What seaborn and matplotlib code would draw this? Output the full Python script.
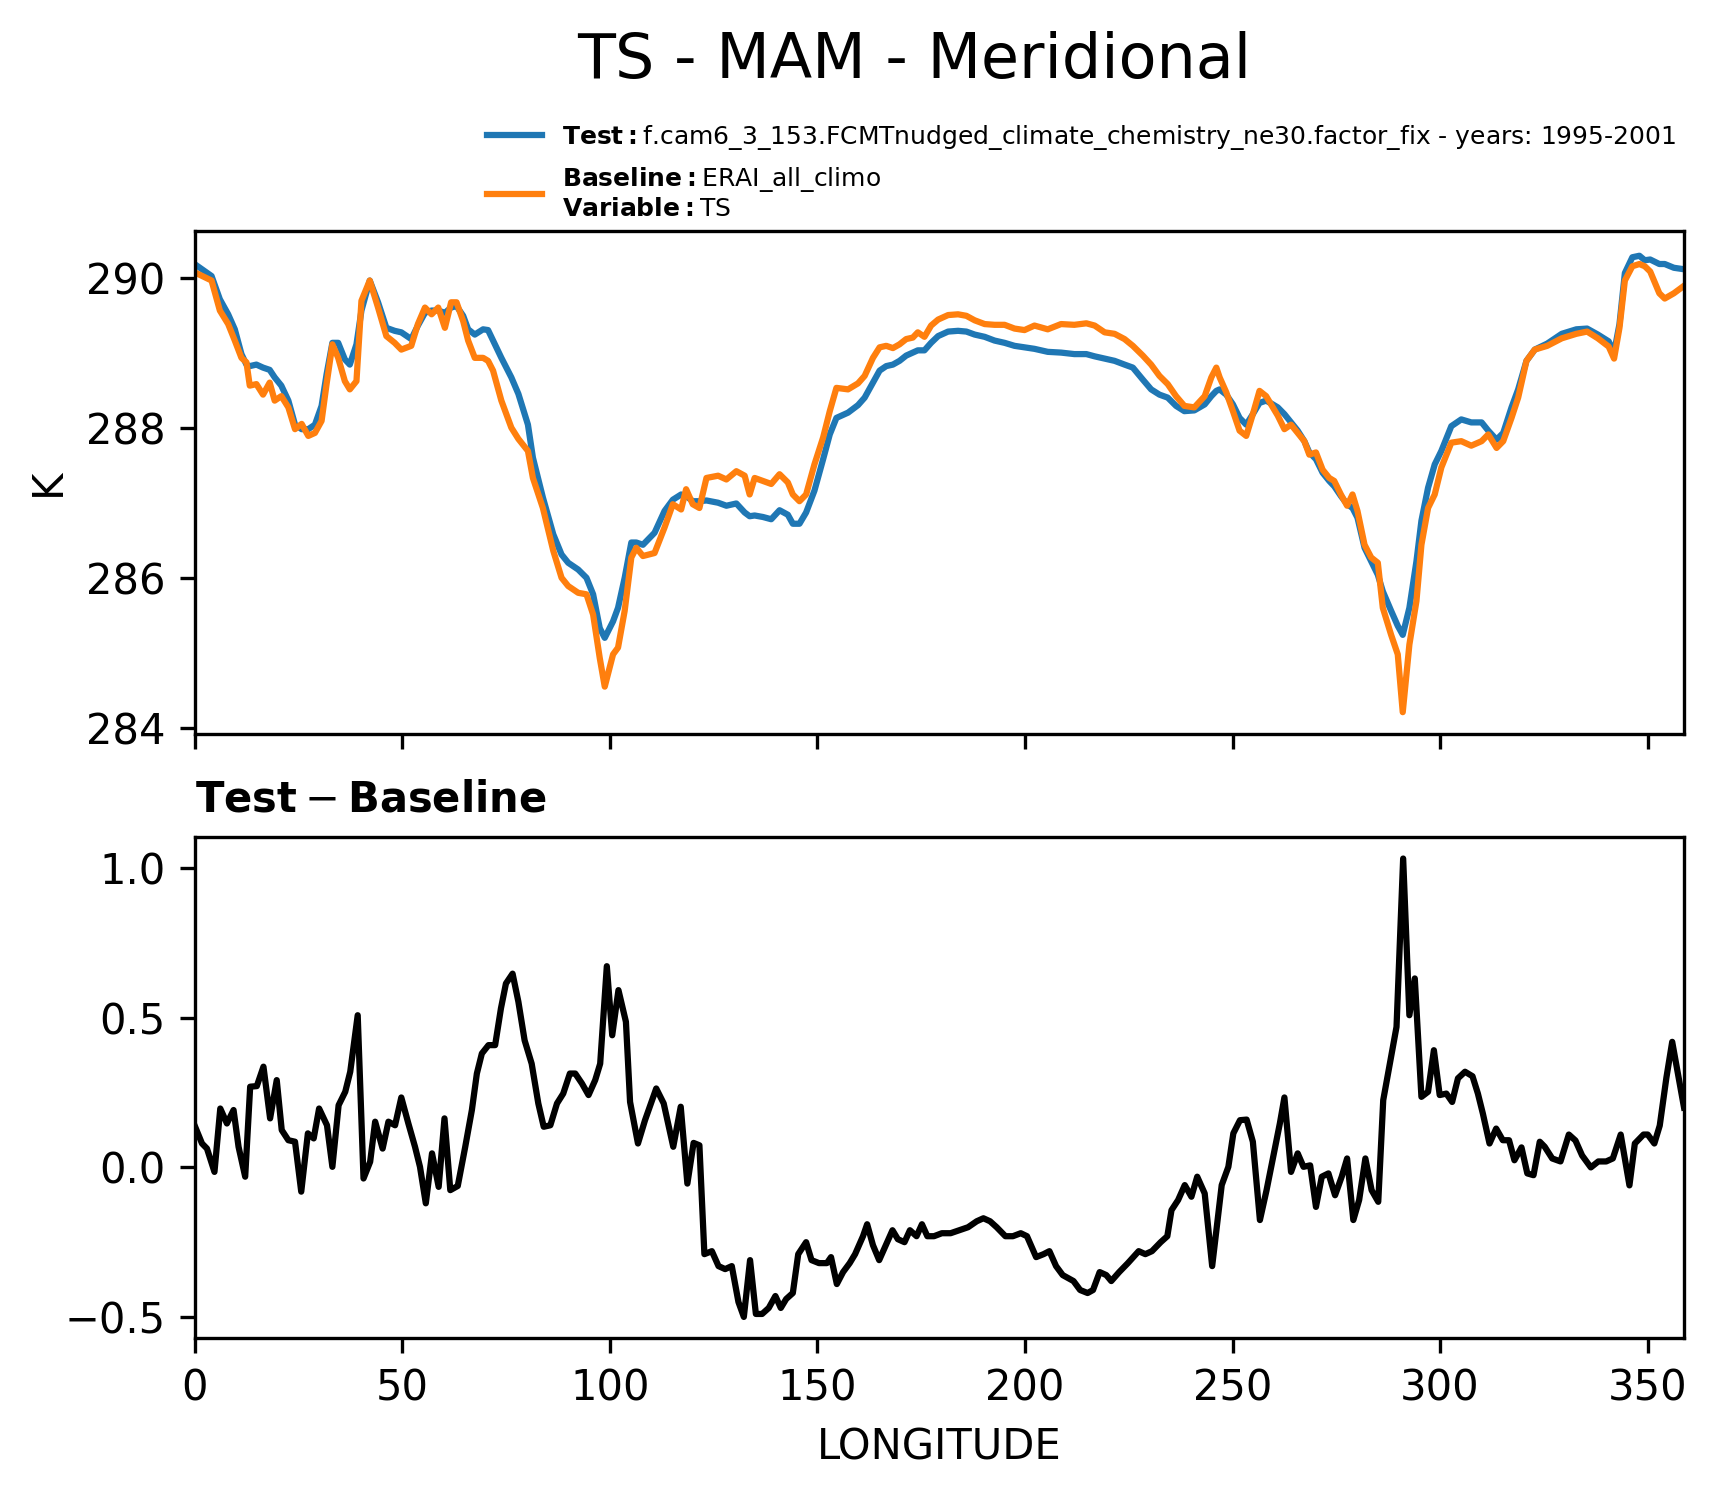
import numpy as np
import matplotlib
matplotlib.use("Agg")
import matplotlib.pyplot as plt
import seaborn as sns

# longitudes for the two climatology curves
lon_top = [0, 4.1, 6.1, 8.1, 9.7, 11.3, 12.5, 13.3, 14.9, 16.5,
           18.1, 19.3, 20.9, 22.6, 24.2, 25.8, 27.4, 29.0, 30.6, 31.8,
           33.2, 34.6, 36.2, 37.4, 39.0, 40.2, 42.2, 44.2, 46.2, 48.2,
           49.8, 52.2, 53.8, 55.5, 57.1, 58.7, 60.3, 61.8, 63.1, 64.7,
           65.9, 67.5, 69.5, 70.7, 71.9, 73.9, 76.3, 78.0, 80.3, 81.5,
           83.9, 86.4, 88.4, 90.0, 92.4, 94.4, 96.0, 97.6, 98.8, 100.8,
           102.0, 103.6, 105.2, 106.4, 108.0, 110.8, 113.2, 115.2, 117.2, 118.4,
           120.0, 121.6, 123.3, 126.1, 128.1, 130.5, 132.5, 133.7, 134.9, 136.9,
           138.9, 140.9, 142.9, 144.1, 145.7, 147.3, 149.3, 151.4, 153.0, 154.6,
           157.4, 159.8, 161.4, 163.4, 165.0, 166.6, 168.2, 169.8, 171.4, 173.0,
           174.2, 175.8, 177.4, 179.1, 181.5, 183.9, 185.9, 187.9, 190.3, 192.7,
           195.1, 197.5, 199.9, 202.3, 205.5, 208.7, 211.9, 214.8, 216.8, 219.2,
           221.6, 224.0, 226.0, 228.4, 230.4, 232.4, 234.4, 236.4, 238.4, 240.8,
           243.3, 244.9, 246.1, 246.9, 248.5, 250.1, 251.7, 253.3, 254.9, 256.5,
           258.1, 259.7, 260.9, 262.5, 264.1, 265.7, 267.3, 268.5, 270.1, 271.7,
           273.3, 274.5, 276.1, 277.6, 278.9, 280.1, 281.8, 283.4, 285.0, 286.2,
           288.2, 289.8, 291.0, 292.6, 294.3, 295.5, 297.1, 298.7, 300.3, 302.7,
           305.1, 307.5, 310.0, 311.6, 313.6, 315.2, 317.2, 318.8, 320.8, 322.8,
           325.8, 329.3, 332.8, 335.4, 338.0, 340.6, 341.9, 343.2, 344.5, 346.3,
           348.0, 349.3, 350.6, 352.8, 354.1, 356.3, 358.75]

ts_test = [290.18, 290.02, 289.71, 289.51, 289.31, 288.98, 288.84, 288.82, 288.84, 288.80,
           288.77, 288.67, 288.56, 288.36, 288.04, 287.98, 287.98, 288.04, 288.29, 288.71,
           289.13, 289.13, 288.91, 288.84, 289.11, 289.56, 289.96, 289.67, 289.33, 289.29,
           289.27, 289.18, 289.36, 289.53, 289.56, 289.56, 289.53, 289.60, 289.62, 289.49,
           289.31, 289.24, 289.31, 289.30, 289.16, 288.93, 288.67, 288.45, 288.04, 287.60,
           287.07, 286.58, 286.31, 286.20, 286.11, 286.00, 285.78, 285.33, 285.20, 285.42,
           285.60, 286.00, 286.47, 286.47, 286.44, 286.60, 286.89, 287.04, 287.11, 287.09,
           287.02, 287.02, 287.03, 287.00, 286.96, 286.99, 286.87, 286.82, 286.83, 286.81,
           286.78, 286.90, 286.84, 286.72, 286.72, 286.87, 287.16, 287.58, 287.91, 288.13,
           288.20, 288.30, 288.40, 288.60, 288.76, 288.82, 288.84, 288.89, 288.96, 289.00,
           289.03, 289.03, 289.13, 289.22, 289.28, 289.29, 289.28, 289.24, 289.21, 289.16,
           289.13, 289.09, 289.07, 289.05, 289.01, 289.00, 288.98, 288.98, 288.95, 288.92,
           288.89, 288.84, 288.80, 288.64, 288.51, 288.44, 288.40, 288.29, 288.22, 288.23,
           288.31, 288.42, 288.49, 288.51, 288.44, 288.31, 288.13, 288.04, 288.18, 288.33,
           288.36, 288.31, 288.27, 288.18, 288.07, 287.96, 287.82, 287.67, 287.58, 287.40,
           287.29, 287.22, 287.09, 286.98, 286.93, 286.80, 286.40, 286.22, 286.04, 285.82,
           285.56, 285.36, 285.24, 285.60, 286.22, 286.76, 287.20, 287.51, 287.69, 288.02,
           288.11, 288.07, 288.07, 287.96, 287.84, 287.93, 288.27, 288.51, 288.89, 289.04,
           289.12, 289.25, 289.31, 289.32, 289.24, 289.15, 289.00, 289.38, 290.06, 290.27,
           290.29, 290.23, 290.24, 290.18, 290.18, 290.13, 290.11]

ts_base = [290.07, 289.96, 289.56, 289.38, 289.16, 288.93, 288.87, 288.56, 288.58, 288.44,
           288.60, 288.36, 288.42, 288.27, 287.98, 288.05, 287.89, 287.93, 288.09, 288.58,
           289.11, 288.93, 288.62, 288.51, 288.62, 289.69, 289.96, 289.60, 289.22, 289.13,
           289.04, 289.09, 289.38, 289.60, 289.51, 289.60, 289.33, 289.67, 289.67, 289.42,
           289.16, 288.93, 288.93, 288.89, 288.76, 288.36, 288.00, 287.85, 287.69, 287.33,
           286.93, 286.36, 286.00, 285.89, 285.80, 285.78, 285.51, 284.93, 284.55, 284.98,
           285.07, 285.56, 286.27, 286.40, 286.29, 286.33, 286.67, 286.98, 286.91, 287.18,
           286.98, 286.93, 287.33, 287.36, 287.31, 287.42, 287.36, 287.11, 287.33, 287.29,
           287.25, 287.38, 287.27, 287.11, 287.02, 287.11, 287.51, 287.87, 288.22, 288.53,
           288.51, 288.59, 288.69, 288.93, 289.07, 289.09, 289.06, 289.11, 289.18, 289.20,
           289.27, 289.21, 289.36, 289.44, 289.50, 289.51, 289.49, 289.43, 289.38, 289.37,
           289.37, 289.32, 289.30, 289.36, 289.31, 289.38, 289.37, 289.39, 289.36, 289.27,
           289.25, 289.18, 289.09, 288.96, 288.84, 288.69, 288.58, 288.42, 288.29, 288.27,
           288.42, 288.67, 288.80, 288.67, 288.47, 288.22, 287.96, 287.89, 288.18, 288.49,
           288.42, 288.27, 288.16, 287.98, 288.04, 287.93, 287.82, 287.64, 287.67, 287.44,
           287.33, 287.29, 287.11, 286.96, 287.11, 286.89, 286.44, 286.27, 286.20, 285.60,
           285.24, 284.98, 284.21, 285.11, 285.69, 286.44, 286.93, 287.11, 287.47, 287.80,
           287.82, 287.76, 287.82, 287.91, 287.73, 287.82, 288.13, 288.40, 288.89, 289.04,
           289.09, 289.19, 289.25, 289.28, 289.19, 289.08, 288.92, 289.33, 289.96, 290.15,
           290.18, 290.15, 290.08, 289.79, 289.72, 289.79, 289.89]

# longitudes and values of the Test - Baseline curve
lon_diff = [0.0, 1.8, 3.0, 4.8, 6.2, 7.8, 9.4, 10.6, 12.2, 13.4,
            15.0, 16.6, 18.2, 19.8, 21.0, 22.6, 24.2, 25.7, 27.3, 28.7,
            30.0, 31.9, 33.2, 34.7, 36.3, 37.5, 39.3, 40.7, 42.3, 43.5,
            45.3, 46.7, 48.3, 49.8, 51.5, 53.1, 54.3, 55.7, 57.2, 58.8,
            60.2, 61.6, 63.4, 65.2, 66.8, 68.0, 69.2, 70.8, 72.4, 73.8,
            75.0, 76.6, 78.0, 79.5, 81.2, 82.8, 84.1, 85.7, 87.3, 88.8,
            90.4, 91.7, 93.3, 94.9, 96.5, 97.7, 99.3, 100.6, 102.1, 103.9,
            104.9, 106.8, 108.5, 111.2, 113.0, 115.3, 117.1, 118.7, 120.2, 121.6,
            122.8, 124.6, 126.2, 127.8, 129.4, 131.0, 132.3, 133.8, 135.2, 136.7,
            138.3, 139.9, 141.2, 142.5, 144.1, 145.4, 147.3, 148.6, 150.4, 152.3,
            153.3, 154.7, 156.2, 157.8, 159.1, 161.0, 162.0, 163.4, 164.9, 166.5,
            168.1, 169.4, 171.0, 172.3, 173.9, 175.2, 176.5, 178.1, 180.0, 182.1,
            184.2, 186.3, 188.4, 190.0, 191.6, 193.2, 195.3, 197.1, 199.0, 200.5,
            202.7, 204.5, 205.9, 207.5, 209.1, 210.4, 211.7, 213.3, 215.1, 216.4,
            218.0, 219.6, 220.8, 222.7, 224.8, 227.4, 229.0, 230.6, 232.7, 234.3,
            235.3, 236.9, 238.5, 240.1, 241.5, 243.3, 245.1, 247.4, 249.0, 250.2,
            251.8, 253.4, 254.9, 256.6, 258.2, 259.8, 261.4, 262.5, 264.1, 265.7,
            267.1, 268.7, 270.1, 271.5, 273.1, 274.7, 276.3, 277.6, 279.1, 280.5,
            282.0, 283.5, 285.1, 286.3, 287.9, 289.5, 291.1, 292.6, 293.9, 295.5,
            297.1, 298.5, 299.9, 301.5, 302.9, 304.3, 306.0, 307.8, 309.1, 310.3,
            311.9, 313.5, 315.1, 316.6, 317.9, 319.6, 321.0, 322.5, 324.0, 325.2,
            327.0, 329.0, 331.0, 332.6, 334.2, 336.3, 338.1, 340.0, 341.6, 343.5,
            345.6, 346.9, 349.0, 350.0, 351.6, 352.9, 354.5, 355.9, 358.75]

ts_diff = [0.141, 0.080, 0.063, -0.015, 0.197, 0.147, 0.192, 0.069, -0.031, 0.270,
           0.272, 0.337, 0.164, 0.292, 0.125, 0.091, 0.086, -0.081, 0.114, 0.097,
           0.197, 0.141, 0.002, 0.208, 0.253, 0.320, 0.509, -0.037, 0.019, 0.153,
           0.063, 0.153, 0.141, 0.234, 0.147, 0.069, 0.002, -0.120, 0.047, -0.065,
           0.164, -0.076, -0.062, 0.069, 0.192, 0.314, 0.381, 0.409, 0.409, 0.532,
           0.615, 0.648, 0.554, 0.425, 0.347, 0.214, 0.136, 0.141, 0.214, 0.247,
           0.314, 0.314, 0.281, 0.242, 0.292, 0.347, 0.673, 0.442, 0.593, 0.487,
           0.219, 0.080, 0.158, 0.264, 0.214, 0.069, 0.203, -0.054, 0.082, 0.074,
           -0.29, -0.28, -0.33, -0.34, -0.33, -0.45, -0.50, -0.31, -0.49, -0.49,
           -0.47, -0.43, -0.47, -0.44, -0.42, -0.29, -0.25, -0.31, -0.32, -0.32,
           -0.30, -0.39, -0.35, -0.32, -0.29, -0.23, -0.19, -0.26, -0.31, -0.26,
           -0.21, -0.24, -0.25, -0.21, -0.23, -0.19, -0.23, -0.23, -0.22, -0.22,
           -0.21, -0.20, -0.18, -0.17, -0.18, -0.20, -0.23, -0.23, -0.22, -0.23,
           -0.30, -0.29, -0.28, -0.33, -0.36, -0.37, -0.38, -0.41, -0.42, -0.41,
           -0.35, -0.36, -0.38, -0.35, -0.32, -0.28, -0.29, -0.28, -0.25, -0.23,
           -0.143, -0.109, -0.059, -0.098, -0.031, -0.087, -0.33, -0.059, 0.002, 0.114,
           0.158, 0.160, 0.086, -0.176, -0.076, 0.036, 0.147, 0.234, -0.015, 0.047,
           0.002, 0.007, -0.132, -0.031, -0.020, -0.093, -0.031, 0.030, -0.176, -0.109,
           0.030, -0.076, -0.115, 0.225, 0.347, 0.470, 1.033, 0.509, 0.632, 0.236,
           0.253, 0.392, 0.242, 0.247, 0.219, 0.298, 0.320, 0.305, 0.247, 0.180,
           0.080, 0.130, 0.091, 0.091, 0.024, 0.067, -0.020, -0.026, 0.086, 0.069,
           0.03, 0.02, 0.11, 0.09, 0.04, 0.00, 0.02, 0.02, 0.03, 0.11,
           -0.06, 0.08, 0.11, 0.11, 0.08, 0.14, 0.30, 0.42, 0.20]

test_label = (r"$\bf{Test}:$f.cam6_3_153.FCMTnudged_climate_chemistry_ne30.factor_fix"
              " - years: 1995-2001")
base_label = r"$\bf{Baseline}:$ERAI_all_climo" + "\n" + r"$\bf{Variable}:$TS"

W, H = 1717, 1496
fig = plt.figure(figsize=(W / 300, H / 300), dpi=300)
ax1 = fig.add_axes([0.1133, 0.5094, 0.8675, 0.3362])
ax2 = fig.add_axes([0.1133, 0.1053, 0.8675, 0.3354])

sns.lineplot(x=lon_top, y=ts_test, ax=ax1, color="#1f77b4", lw=1.5,
             label=test_label, legend=False)
sns.lineplot(x=lon_top, y=ts_base, ax=ax1, color="#ff7f0e", lw=1.5,
             label=base_label, legend=False)
sns.lineplot(x=lon_diff, y=ts_diff, ax=ax2, color="black", lw=1.5, legend=False)

for ax in (ax1, ax2):
    ax.set_xlim(0, 358.75)
    ax.set_xticks(np.arange(0, 351, 50))
    ax.tick_params(labelsize=10)

ax1.set_ylim(283.92, 290.62)
ax1.set_yticks([284, 286, 288, 290])
ax1.set_xticklabels([])
ax1.set_xlabel("")
ax1.set_ylabel("K", fontsize=10)

ax2.set_ylim(-0.572, 1.106)
ax2.set_yticks([-0.5, 0.0, 0.5, 1.0])
ax2.set_xlabel("LONGITUDE", fontsize=10)
ax2.set_ylabel("")
ax2.set_title(r"$\mathbf{Test} - \mathbf{Baseline}$", loc="left", fontsize=10)

handles, labels = ax1.get_legend_handles_labels()
ax1.legend(handles, labels, loc="upper left", bbox_to_anchor=(486.5 / W, 1 - 123 / H),
           bbox_transform=fig.transFigure, frameon=False, fontsize=6,
           borderaxespad=0, borderpad=0, handlelength=2.2)

fig.text(914.6 / W, 1 - 78 / H, "TS - MAM - Meridional", ha="center",
         va="baseline", fontsize=14.9)

fig.savefig("out.png", dpi=300)
